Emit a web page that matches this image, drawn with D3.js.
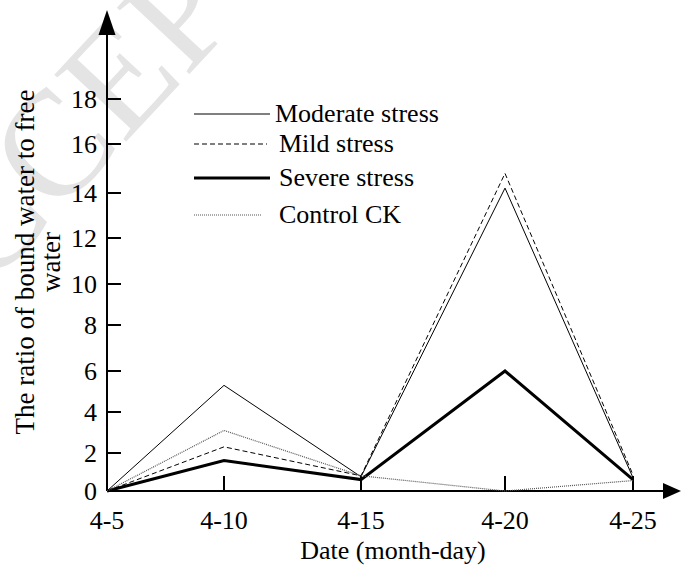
<!DOCTYPE html>
<html>
<head>
<meta charset="utf-8">
<script src="https://cdn.jsdelivr.net/npm/d3@7"></script>
<style>
  html, body { margin: 0; padding: 0; background: #fff; }
  svg { display: block; }
  text { font-family: "Liberation Serif", "Times New Roman", serif; fill: #000; }
</style>
</head>
<body>
<svg id="chart" width="681" height="570"></svg>
<script>
// Sampling dates (month-day) and day-of-month used for positioning
const dateLabels = ["4-5", "4-10", "4-15", "4-20", "4-25"];
const days = [5, 10, 15, 20, 25];

// Ratio of bound water to free water for each treatment
const moderate = [0, 5.3, 0.75, 14.2, 0.7];
const mild     = [0, 2.3, 0.8, 14.8, 0.85];
const severe   = [0, 1.6, 0.6, 6.0, 0.6];
const control  = [0, 3.1, 0.8, 0.0, 0.55];

// Y tick values
const yTicks = [0, 2, 4, 6, 8, 10, 12, 14, 16, 18];

const svg = d3.select("#chart");

// Faint background watermark
svg.append("text")
  .attr("transform", "translate(140,52) rotate(-47)")
  .attr("text-anchor", "middle")
  .attr("dominant-baseline", "central")
  .style("font-size", "150px")
  .style("fill", "#e4e4e4")
  .text("ACCEPTED");

// Hand-drawn axes are not evenly spaced, so both scales are piecewise linear
const x = d3.scaleLinear()
  .domain(days)
  .range([107, 224, 361, 505, 633]);

const y = d3.scaleLinear()
  .domain(yTicks)
  .range([491, 453, 412, 371, 325, 284, 238, 193, 144, 99]);

const x0 = x(days[0]);
const yBase = y(0);
const fontSize = "26px";

// Axis lines with arrow heads
svg.append("line")
  .attr("x1", x0).attr("y1", yBase)
  .attr("x2", x0).attr("y2", 30)
  .attr("stroke", "#000").attr("stroke-width", 2);
svg.append("path")
  .attr("d", `M${x0},10 L${x0 - 8.5},35 L${x0 + 8.5},35 Z`)
  .attr("fill", "#000");

svg.append("line")
  .attr("x1", x0).attr("y1", yBase)
  .attr("x2", 668).attr("y2", yBase)
  .attr("stroke", "#000").attr("stroke-width", 2);
svg.append("path")
  .attr("d", `M681,${yBase} L663,${yBase - 8} L663,${yBase + 8} Z`)
  .attr("fill", "#000");

// Y ticks (drawn inward) and labels
const yAxis = svg.append("g");
yAxis.selectAll("line")
  .data(yTicks)
  .join("line")
  .attr("x1", x0).attr("x2", x0 + 14)
  .attr("y1", d => y(d)).attr("y2", d => y(d))
  .attr("stroke", "#000").attr("stroke-width", 2);
yAxis.selectAll("text")
  .data(yTicks)
  .join("text")
  .attr("x", x0 - 10)
  .attr("y", d => y(d) + 9)
  .attr("text-anchor", "end")
  .style("font-size", fontSize)
  .text(d => d);

// X ticks (drawn upward) and labels
const xAxis = svg.append("g");
xAxis.selectAll("line")
  .data(days.slice(1))
  .join("line")
  .attr("x1", d => x(d)).attr("x2", d => x(d))
  .attr("y1", yBase).attr("y2", yBase - 15)
  .attr("stroke", "#000").attr("stroke-width", 2);
xAxis.selectAll("text")
  .data(days)
  .join("text")
  .attr("x", d => x(d))
  .attr("y", 529)
  .attr("text-anchor", "middle")
  .style("font-size", fontSize)
  .text((d, i) => dateLabels[i]);

// Axis titles
svg.append("text")
  .attr("x", 393).attr("y", 559)
  .attr("text-anchor", "middle")
  .style("font-size", fontSize)
  .text("Date (month-day)");

const yTitle = svg.append("text")
  .attr("transform", "translate(34,262) rotate(-90)")
  .attr("text-anchor", "middle")
  .style("font-size", "27px");
yTitle.append("tspan").attr("x", 0).attr("dy", 0).text("The ratio of bound water to free");
yTitle.append("tspan").attr("x", 0).attr("dy", 26).text("water");

// Series styling
const series = [
  { name: "Moderate stress", values: moderate, width: 1,   dash: null,  color: "#000" },
  { name: "Mild stress",     values: mild,     width: 1,   dash: "5,3", color: "#000" },
  { name: "Severe stress",   values: severe,   width: 3,   dash: null,  color: "#000" },
  { name: "Control CK",      values: control,  width: 1.2, dash: "1,1", color: "#555" }
];

const line = d3.line()
  .x((d, i) => x(days[i]))
  .y(d => y(d));

svg.append("g")
  .selectAll("path")
  .data(series)
  .join("path")
  .attr("d", s => line(s.values))
  .attr("fill", "none")
  .attr("stroke", s => s.color)
  .attr("stroke-width", s => s.width)
  .attr("stroke-dasharray", s => s.dash)
  .attr("stroke-linejoin", "miter");

// Legend
const legendY = [114, 144, 178, 215];
const legendLineEnd = [270, 267, 270, 262];
const legendTextX = [275, 279, 279, 279];
const legend = svg.append("g")
  .selectAll("g")
  .data(series)
  .join("g");
legend.append("line")
  .attr("x1", 194)
  .attr("x2", (s, i) => legendLineEnd[i])
  .attr("y1", (s, i) => legendY[i])
  .attr("y2", (s, i) => legendY[i])
  .attr("stroke", s => s.color)
  .attr("stroke-width", s => s.width)
  .attr("stroke-dasharray", s => s.dash);
legend.append("text")
  .attr("x", (s, i) => legendTextX[i])
  .attr("y", (s, i) => legendY[i] + 8)
  .style("font-size", fontSize)
  .text(s => s.name);
</script>
</body>
</html>
